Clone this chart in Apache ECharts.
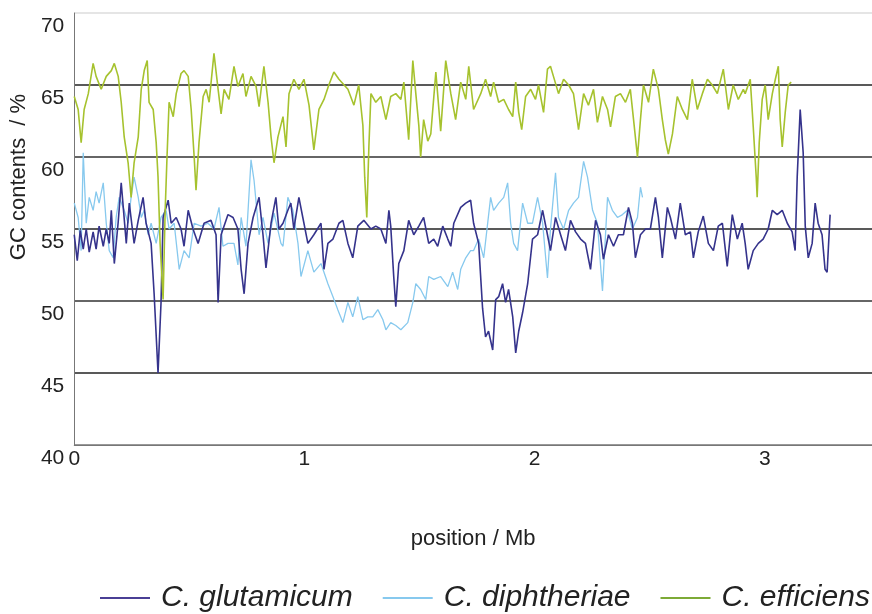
<!DOCTYPE html>
<html>
<head>
<meta charset="utf-8">
<script src="https://cdn.jsdelivr.net/npm/echarts@6/dist/echarts.min.js"></script>
<style>
  html, body { margin: 0; padding: 0; background: #fff; }
  #chart { width: 872px; height: 614px; }
</style>
</head>
<body>
<div id="chart"></div>
<script>
// position (Mb), GC content (%)
const gluData = [
  [0, 54.6], [0.013, 52.8], [0.026, 54.9], [0.039, 53.6], [0.052, 55.0], [0.065, 53.4], [0.082, 54.8],
  [0.095, 53.6], [0.108, 55.2], [0.126, 53.8], [0.139, 55.0], [0.152, 54.0], [0.161, 56.3], [0.174, 52.6],
  [0.191, 55.5], [0.204, 58.2], [0.226, 54.0], [0.239, 56.8], [0.260, 54.0], [0.278, 55.6], [0.299, 57.2],
  [0.312, 55.4], [0.334, 54.0], [0.347, 50.5], [0.364, 45.0], [0.377, 49.9], [0.386, 55.8], [0.408, 57.0],
  [0.421, 55.4], [0.443, 55.8], [0.464, 55.0], [0.477, 53.8], [0.495, 56.3], [0.516, 55.0], [0.538, 54.0],
  [0.564, 55.4], [0.594, 55.6], [0.616, 54.6], [0.625, 49.9], [0.638, 54.6], [0.668, 56.0], [0.690, 55.8],
  [0.711, 55.0], [0.725, 52.2], [0.738, 50.5], [0.755, 54.0], [0.777, 55.8], [0.803, 57.2], [0.820, 54.6],
  [0.833, 52.3], [0.855, 55.4], [0.876, 57.2], [0.889, 55.0], [0.907, 55.4], [0.928, 56.3], [0.941, 56.8],
  [0.954, 55.0], [0.976, 57.2], [0.993, 55.8], [1.015, 54.0], [1.041, 54.6], [1.072, 55.4], [1.085, 52.2],
  [1.102, 54.0], [1.124, 54.3], [1.150, 55.4], [1.167, 55.6], [1.189, 54.0], [1.210, 53.0], [1.232, 55.2],
  [1.258, 55.6], [1.289, 55.0], [1.310, 55.2], [1.332, 55.0], [1.354, 54.0], [1.367, 56.3], [1.375, 55.2],
  [1.388, 51.7], [1.397, 49.6], [1.410, 52.6], [1.432, 53.5], [1.453, 55.6], [1.475, 54.6], [1.497, 55.2],
  [1.518, 55.8], [1.540, 54.0], [1.562, 54.3], [1.579, 53.8], [1.601, 55.2], [1.623, 54.3], [1.636, 53.8],
  [1.649, 55.4], [1.679, 56.5], [1.701, 56.8], [1.722, 57.0], [1.735, 55.4], [1.757, 54.0], [1.774, 49.5],
  [1.787, 47.5], [1.800, 47.9], [1.818, 46.6], [1.831, 50.1], [1.844, 50.3], [1.861, 51.2], [1.874, 49.9],
  [1.887, 50.8], [1.905, 48.9], [1.918, 46.4], [1.931, 47.9], [1.948, 49.2], [1.970, 51.2], [1.991, 54.3],
  [2.013, 54.6], [2.035, 56.3], [2.056, 54.6], [2.069, 53.5], [2.091, 55.8], [2.113, 54.6], [2.134, 53.5],
  [2.156, 55.6], [2.178, 54.8], [2.200, 54.3], [2.221, 54.0], [2.243, 52.2], [2.265, 55.6], [2.286, 54.6],
  [2.299, 52.9], [2.321, 54.6], [2.343, 53.8], [2.364, 54.6], [2.386, 54.6], [2.408, 56.5], [2.425, 55.4],
  [2.438, 53.0], [2.460, 54.6], [2.482, 55.0], [2.503, 55.0], [2.525, 57.2], [2.538, 55.8], [2.555, 53.0],
  [2.577, 56.5], [2.590, 55.8], [2.612, 54.3], [2.633, 56.8], [2.655, 54.6], [2.677, 54.8], [2.690, 53.0],
  [2.711, 54.8], [2.733, 55.9], [2.755, 54.0], [2.777, 53.5], [2.798, 55.2], [2.816, 55.4], [2.837, 52.4],
  [2.859, 56.0], [2.881, 54.3], [2.902, 55.4], [2.915, 54.0], [2.928, 52.2], [2.950, 53.5], [2.972, 54.0],
  [2.993, 54.3], [3.015, 55.0], [3.033, 56.3], [3.054, 56.0], [3.076, 56.3], [3.098, 55.4], [3.119, 54.8],
  [3.132, 53.5], [3.141, 58.6], [3.154, 63.3], [3.167, 60.3], [3.176, 55.2], [3.189, 53.0], [3.206, 54.0],
  [3.219, 56.8], [3.232, 55.4], [3.249, 54.6], [3.262, 52.2], [3.271, 52.0], [3.284, 56.0]
];

const dipData = [
  [0, 56.8], [0.017, 55.8], [0.030, 53.5], [0.039, 60.3], [0.052, 55.4], [0.065, 57.2], [0.082, 56.3],
  [0.095, 57.6], [0.108, 56.8], [0.126, 58.2], [0.139, 55.4], [0.152, 53.5], [0.169, 53.0], [0.182, 55.8],
  [0.195, 57.2], [0.217, 56.3], [0.234, 55.4], [0.247, 57.2], [0.260, 58.6], [0.278, 57.2], [0.291, 55.8],
  [0.304, 56.3], [0.321, 54.6], [0.334, 55.4], [0.356, 54.0], [0.377, 55.8], [0.399, 56.3], [0.412, 55.0],
  [0.434, 55.4], [0.456, 52.2], [0.477, 53.5], [0.499, 53.0], [0.521, 55.4], [0.551, 55.2], [0.581, 55.4],
  [0.607, 55.0], [0.629, 56.5], [0.646, 53.8], [0.668, 54.0], [0.694, 54.0], [0.711, 52.5], [0.725, 55.8],
  [0.746, 53.8], [0.768, 59.8], [0.781, 58.4], [0.803, 54.6], [0.820, 55.8], [0.842, 54.0], [0.868, 56.1],
  [0.898, 54.0], [0.907, 53.8], [0.928, 57.2], [0.950, 56.3], [0.972, 54.0], [0.985, 51.7], [1.015, 53.5],
  [1.041, 52.0], [1.072, 52.6], [1.102, 51.2], [1.124, 50.3], [1.145, 49.4], [1.167, 48.5], [1.189, 49.9],
  [1.210, 48.9], [1.232, 50.3], [1.254, 48.7], [1.275, 48.9], [1.297, 48.9], [1.319, 49.4], [1.341, 48.7],
  [1.354, 48.0], [1.375, 48.5], [1.397, 48.3], [1.419, 48.0], [1.449, 48.5], [1.471, 49.9], [1.484, 51.2],
  [1.505, 50.8], [1.527, 50.1], [1.540, 51.7], [1.562, 51.5], [1.592, 51.7], [1.623, 51.0], [1.644, 52.0],
  [1.666, 50.8], [1.679, 52.2], [1.701, 53.0], [1.722, 53.5], [1.735, 53.5], [1.757, 54.3], [1.779, 53.0],
  [1.809, 57.2], [1.822, 56.3], [1.844, 56.8], [1.866, 57.2], [1.883, 58.2], [1.896, 55.4], [1.909, 54.0],
  [1.926, 53.5], [1.948, 56.8], [1.970, 55.4], [1.991, 55.4], [2.013, 57.2], [2.035, 55.4], [2.056, 51.6],
  [2.069, 55.0], [2.091, 58.9], [2.104, 55.8], [2.126, 55.0], [2.148, 56.3], [2.169, 56.8], [2.191, 57.2],
  [2.213, 59.7], [2.230, 58.6], [2.252, 56.3], [2.273, 55.4], [2.286, 52.6], [2.295, 50.7], [2.317, 57.2],
  [2.338, 56.3], [2.360, 55.8], [2.382, 56.0], [2.403, 56.3], [2.425, 55.0], [2.447, 55.8], [2.460, 57.9],
  [2.469, 57.2]
];

const effData = [
  [0, 64.2], [0.017, 63.3], [0.030, 61.0], [0.043, 63.3], [0.061, 64.4], [0.082, 66.5], [0.095, 65.6],
  [0.117, 64.7], [0.139, 65.6], [0.161, 66.0], [0.174, 66.5], [0.191, 65.6], [0.204, 63.8], [0.217, 61.4],
  [0.234, 59.6], [0.247, 57.2], [0.260, 59.6], [0.278, 61.4], [0.291, 64.7], [0.304, 66.0], [0.317, 66.7],
  [0.325, 63.8], [0.343, 63.3], [0.356, 61.0], [0.364, 58.6], [0.373, 54.0], [0.386, 50.1], [0.395, 56.3],
  [0.403, 60.0], [0.412, 63.8], [0.430, 62.8], [0.443, 64.4], [0.464, 65.8], [0.477, 66.0], [0.495, 65.6],
  [0.508, 63.3], [0.521, 60.0], [0.529, 57.7], [0.542, 61.0], [0.560, 64.2], [0.573, 64.7], [0.586, 63.8],
  [0.607, 67.2], [0.625, 64.7], [0.638, 63.0], [0.651, 64.7], [0.672, 64.0], [0.694, 66.3], [0.711, 64.9],
  [0.733, 65.8], [0.746, 64.2], [0.768, 65.6], [0.790, 64.9], [0.803, 63.5], [0.824, 66.3], [0.842, 63.8],
  [0.855, 61.4], [0.868, 59.6], [0.885, 61.4], [0.907, 62.8], [0.920, 60.7], [0.933, 64.4], [0.954, 65.4],
  [0.976, 64.7], [0.998, 65.4], [1.020, 63.6], [1.041, 60.5], [1.063, 63.3], [1.085, 64.0], [1.106, 65.0],
  [1.128, 65.9], [1.150, 65.4], [1.189, 64.7], [1.215, 63.6], [1.236, 65.0], [1.254, 62.2], [1.262, 58.6],
  [1.271, 55.8], [1.280, 60.7], [1.289, 64.4], [1.310, 63.8], [1.332, 64.2], [1.354, 62.6], [1.375, 64.2],
  [1.397, 64.4], [1.419, 64.0], [1.432, 65.2], [1.453, 61.2], [1.471, 66.7], [1.484, 64.4], [1.497, 62.2],
  [1.505, 60.0], [1.518, 62.6], [1.536, 61.1], [1.549, 61.6], [1.571, 65.9], [1.592, 61.8], [1.614, 66.7],
  [1.636, 64.4], [1.657, 62.6], [1.679, 65.2], [1.701, 64.0], [1.714, 66.3], [1.735, 63.3], [1.766, 64.4],
  [1.787, 65.4], [1.809, 64.2], [1.822, 65.2], [1.844, 63.8], [1.866, 64.0], [1.887, 63.3], [1.905, 62.8],
  [1.918, 65.2], [1.931, 63.1], [1.944, 61.9], [1.961, 64.2], [1.983, 64.7], [2.004, 64.0], [2.017, 65.0],
  [2.039, 63.1], [2.056, 66.1], [2.069, 66.3], [2.082, 65.6], [2.104, 64.4], [2.126, 65.4], [2.148, 65.0],
  [2.169, 64.4], [2.191, 61.9], [2.213, 64.4], [2.234, 63.6], [2.256, 64.7], [2.273, 62.4], [2.295, 64.2],
  [2.317, 63.3], [2.330, 62.1], [2.351, 64.2], [2.373, 64.4], [2.395, 63.8], [2.416, 64.7], [2.430, 62.6],
  [2.447, 60.0], [2.460, 62.6], [2.473, 65.0], [2.495, 63.8], [2.516, 66.1], [2.538, 64.7], [2.555, 62.6],
  [2.568, 61.2], [2.581, 60.2], [2.599, 61.6], [2.620, 64.2], [2.642, 63.3], [2.664, 62.6], [2.685, 65.4],
  [2.707, 63.3], [2.729, 64.4], [2.751, 65.4], [2.772, 65.0], [2.794, 64.4], [2.820, 66.1], [2.842, 63.3],
  [2.863, 65.0], [2.885, 64.0], [2.907, 64.7], [2.915, 64.4], [2.937, 65.4], [2.950, 62.1], [2.963, 58.6],
  [2.967, 57.2], [2.976, 61.0], [2.989, 64.0], [3.002, 65.0], [3.015, 62.6], [3.033, 64.4], [3.046, 65.4],
  [3.059, 66.3], [3.067, 62.6], [3.076, 60.7], [3.089, 63.1], [3.102, 65.0], [3.115, 65.2]
];

const xTicks = [0, 1, 2, 3];
const yTicks = [40, 45, 50, 55, 60, 65, 70];

const FONT = 'Liberation Sans, Arial, sans-serif';
const chart = echarts.init(document.getElementById('chart'));

chart.setOption({
  backgroundColor: '#fff',
  animation: false,
  grid: { left: 73, right: 0, top: 13, bottom: 169 },
  legend: {
    data: ['C. glutamicum', 'C. diphtheriae', 'C. efficiens'],
    left: 100,
    top: 583,
    padding: 0,
    itemWidth: 50,
    itemHeight: 2,
    itemGap: 30,
    icon: 'rect',
    textStyle: { fontFamily: FONT, fontSize: 30, fontStyle: 'italic', color: '#222', padding: [0, 0, 0, 6] }
  },
  xAxis: {
    type: 'value',
    min: 0,
    max: 3.466,
    interval: 1,
    name: 'position / Mb',
    nameLocation: 'middle',
    nameGap: 83,
    nameTextStyle: { fontFamily: FONT, fontSize: 22, color: '#222' },
    axisLine: { lineStyle: { color: '#777', width: 1 } },
    axisTick: { show: false },
    splitLine: { show: false },
    axisLabel: {
      fontFamily: FONT, fontSize: 21, color: '#222', margin: 4,
      showMaxLabel: false,
      formatter: v => (xTicks.indexOf(v) >= 0 ? String(v) : '')
    }
  },
  yAxis: {
    type: 'value',
    min: 40,
    max: 70,
    interval: 5,
    name: 'GC contents  / %',
    nameLocation: 'middle',
    nameGap: 37,
    nameTextStyle: { fontFamily: FONT, fontSize: 22, color: '#222', padding: [0, 0, 0, 104] },
    axisLine: { show: true, lineStyle: { color: '#777', width: 1 } },
    axisTick: { show: false },
    axisLabel: {
      fontFamily: FONT, fontSize: 21, color: '#222', margin: 10,
      verticalAlign: 'top', padding: [3, 0, 0, 0],
      formatter: v => (yTicks.indexOf(v) >= 0 ? String(v) : '')
    },
    splitLine: {
      show: true,
      lineStyle: { color: ['#777', '#222', '#333', '#222', '#333', '#222', '#ddd'], width: 1.5 }
    }
  },
  series: [
    {
      name: 'C. diphtheriae', type: 'line', data: dipData, showSymbol: false,
      lineStyle: { color: '#87c9ee', width: 1.3 }, itemStyle: { color: '#87c9ee' }, z: 2
    },
    {
      name: 'C. glutamicum', type: 'line', data: gluData, showSymbol: false,
      lineStyle: { color: '#35338c', width: 1.6 }, itemStyle: { color: '#4a3f95' }, z: 3
    },
    {
      name: 'C. efficiens', type: 'line', data: effData, showSymbol: false,
      lineStyle: { color: '#a6c22e', width: 1.6 }, itemStyle: { color: '#7daa36' }, z: 4
    }
  ]
});
</script>
</body>
</html>
